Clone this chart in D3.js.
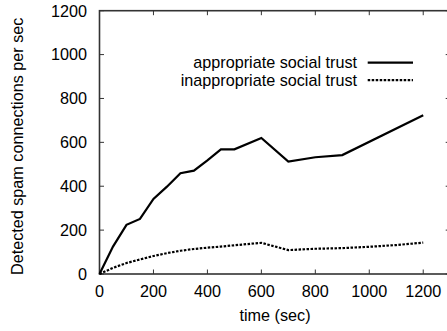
<!DOCTYPE html>
<html>
<head>
<meta charset="utf-8">
<script src="https://cdn.jsdelivr.net/npm/d3@7"></script>
<style>
  body { margin: 0; background: #fff; }
  text { font-family: "Liberation Sans", Arial, sans-serif; fill: #000; }
</style>
</head>
<body>
<svg id="chart" width="447" height="331"></svg>
<script>
// data
var times = [0, 50, 100, 150, 200, 250, 300, 350, 400, 450, 500, 600, 700, 800, 900, 1200];
var appropriate = [0, 125, 224, 251, 342, 398, 459, 471, 518, 568, 568, 620, 512, 532, 542, 723];
var timesInappr = [0, 50, 100, 150, 200, 250, 300, 350, 400, 450, 500, 600, 700, 800, 900, 1000, 1100, 1200];
var inappropriate = [0, 28, 50, 66, 82, 95, 106, 114, 120, 125, 131, 142, 109, 115, 118, 124, 132, 143];
var xTicks = [0, 200, 400, 600, 800, 1000, 1200];
var yTicks = [0, 200, 400, 600, 800, 1000, 1200];
var legendLabels = ["appropriate social trust", "inappropriate social trust"];

function drawChart(){
  var svg = d3.select("#chart");
  var mLeft = 99.5, mRight = 450.2, mTop = 10.7, mBottom = 274;
  var x = d3.scaleLinear().domain([0, 1300]).range([mLeft, mRight]);
  var y = d3.scaleLinear().domain([0, 1200]).range([mBottom, mTop]);
  var tick = 4.5;
  var frameColor = "#333";
  var fs = 16.2;

  // frame
  svg.append("rect")
    .attr("x", mLeft).attr("y", mTop)
    .attr("width", mRight - mLeft).attr("height", mBottom - mTop)
    .attr("fill", "none").attr("stroke", frameColor).attr("stroke-width", 1.6);

  // ticks (inward, mirrored)
  var tk = svg.append("g").attr("stroke", frameColor).attr("stroke-width", 1);
  xTicks.forEach(function(t){
    tk.append("line").attr("x1", x(t)).attr("x2", x(t)).attr("y1", mBottom).attr("y2", mBottom - tick);
    tk.append("line").attr("x1", x(t)).attr("x2", x(t)).attr("y1", mTop).attr("y2", mTop + tick);
  });
  yTicks.forEach(function(t){
    tk.append("line").attr("x1", mLeft).attr("x2", mLeft + tick).attr("y1", y(t)).attr("y2", y(t));
    tk.append("line").attr("x1", mRight).attr("x2", mRight - tick).attr("y1", y(t)).attr("y2", y(t));
  });

  // tick labels
  svg.append("g").selectAll("text").data(xTicks).join("text")
    .attr("x", function(d){ return x(d); }).attr("y", 297.3)
    .attr("text-anchor", "middle").attr("font-size", fs)
    .text(function(d){ return d; });
  svg.append("g").selectAll("text").data(yTicks).join("text")
    .attr("x", 87).attr("y", function(d){ return y(d) + 5.8; })
    .attr("text-anchor", "end").attr("font-size", fs)
    .text(function(d){ return d; });

  // axis titles
  svg.append("text").attr("x", 275).attr("y", 321)
    .attr("text-anchor", "middle").attr("font-size", fs).text("time (sec)");
  svg.append("text")
    .attr("transform", "translate(23," + ((mTop + mBottom) / 2 + 4) + ") rotate(-90)")
    .attr("text-anchor", "middle").attr("font-size", fs)
    .text("Detected spam connections per sec");

  // series
  var line = d3.line().x(function(d){ return x(d[0]); }).y(function(d){ return y(d[1]); });
  svg.append("path")
    .datum(d3.zip(times, appropriate))
    .attr("d", line).attr("fill", "none").attr("stroke", "#000")
    .attr("stroke-width", 2.2);
  svg.append("path")
    .datum(d3.zip(timesInappr, inappropriate))
    .attr("d", line).attr("fill", "none").attr("stroke", "#000")
    .attr("stroke-width", 2.2).attr("stroke-dasharray", "2.5,1.5");

  // legend
  var lg = svg.append("g");
  legendLabels.forEach(function(lab, i){
    var ly = 62.7 + i * 17.5;
    lg.append("text").attr("x", 357).attr("y", ly + 5.7)
      .attr("text-anchor", "end").attr("font-size", fs).text(lab);
    lg.append("line").attr("x1", 367.7).attr("x2", 413).attr("y1", ly).attr("y2", ly)
      .attr("stroke", "#000").attr("stroke-width", 2.2)
      .attr("stroke-dasharray", i === 1 ? "2.5,1.5" : null);
  });
}
drawChart();
</script>
</body>
</html>
